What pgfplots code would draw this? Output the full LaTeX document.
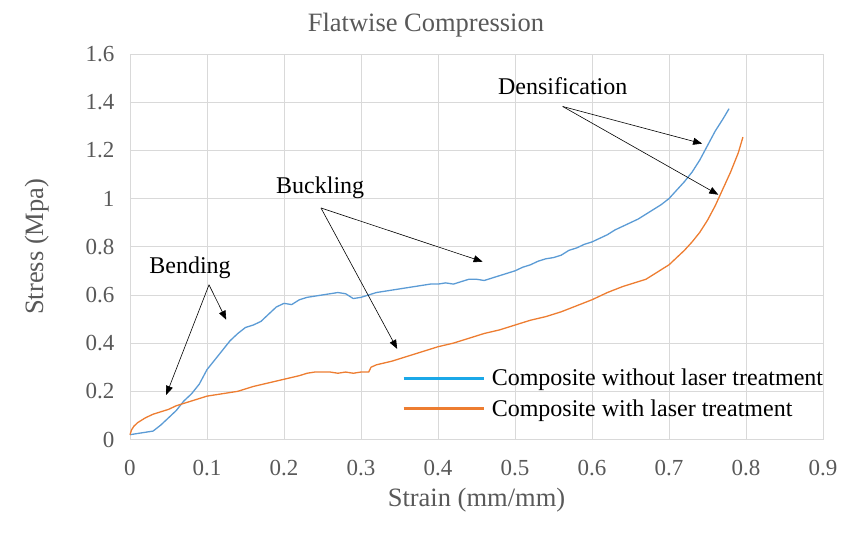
\documentclass[border=0pt]{standalone}
\usepackage{pgfplots}
\pgfplotsset{compat=1.18}
\usepackage{fontspec}
\setmainfont{Liberation Serif}
\usetikzlibrary{arrows.meta}
\definecolor{sblue}{HTML}{5B9BD5}
\definecolor{lblue}{HTML}{1BA8E8}
\definecolor{sorange}{HTML}{ED7D31}
\definecolor{txtgray}{HTML}{595959}
\definecolor{gridgray}{HTML}{D9D9D9}
\begin{document}
\begin{tikzpicture}
\begin{axis}[
  scale only axis,
  width=693pt, height=385.5pt,
  xmin=0, xmax=0.9, ymin=0, ymax=1.6,
  xtick={0,0.1,...,0.9}, ytick={0,0.2,...,1.6},
  xticklabels={0,0.1,0.2,0.3,0.4,0.5,0.6,0.7,0.8,0.9},
  yticklabels={0,0.2,0.4,0.6,0.8,1,1.2,1.4,1.6},
  grid=major,
  major grid style={gridgray, line width=0.8pt},
  axis line style={gridgray, line width=0.8pt},
  tick style={draw=none},
  ticklabel style={font=\fontsize{23}{26}\selectfont, text=txtgray},
  xticklabel style={yshift=-17pt},
  yticklabel style={xshift=-12pt},
  xlabel={Strain (mm/mm)},
  ylabel={Stress (Mpa)},
  label style={font=\fontsize{26.5}{30}\selectfont, text=txtgray},
  xlabel style={yshift=-6pt},
  ylabel style={yshift=30pt},
  title={Flatwise Compression},
  title style={font=\fontsize{26.5}{30}\selectfont, text=txtgray, at={(0.427,1)}, anchor=center, yshift=23pt},
  legend cell align=left,
  legend style={draw=none, fill=none, at={(0.3925,0.188)}, anchor=north west, inner sep=0pt,
    font=\fontsize{24}{28}\selectfont, row sep=8pt,
    nodes={inner xsep=7pt, inner ysep=2pt}},
  legend image code/.code={\draw[#1, line width=2.6pt] (0pt,0pt) -- (80pt,0pt);},
  clip=false,
]
\addplot[sblue, line width=1.3pt, forget plot] coordinates {
(0,0.02)(0.01,0.025)(0.02,0.03)(0.03,0.035)(0.04,0.06)(0.05,0.09)(0.06,0.12)(0.07,0.16)
(0.08,0.19)(0.09,0.23)(0.10,0.29)(0.11,0.33)(0.12,0.37)(0.13,0.41)(0.14,0.44)(0.15,0.465)
(0.16,0.475)(0.17,0.49)(0.18,0.52)(0.19,0.55)(0.20,0.565)(0.21,0.56)(0.22,0.58)(0.23,0.59)
(0.24,0.595)(0.25,0.60)(0.26,0.605)(0.27,0.61)(0.28,0.605)(0.29,0.585)(0.30,0.59)(0.31,0.60)
(0.32,0.61)(0.33,0.615)(0.34,0.62)(0.35,0.625)(0.36,0.63)(0.37,0.635)(0.38,0.64)(0.39,0.645)
(0.40,0.645)(0.41,0.65)(0.42,0.645)(0.43,0.655)(0.44,0.665)(0.45,0.665)(0.46,0.66)(0.47,0.67)
(0.48,0.68)(0.49,0.69)(0.50,0.70)(0.51,0.715)(0.52,0.725)(0.53,0.74)(0.54,0.75)(0.55,0.755)
(0.56,0.765)(0.57,0.785)(0.58,0.795)(0.59,0.81)(0.60,0.82)(0.61,0.835)(0.62,0.85)(0.63,0.87)
(0.64,0.885)(0.65,0.90)(0.66,0.915)(0.67,0.935)(0.68,0.955)(0.69,0.975)(0.70,1.00)(0.71,1.035)
(0.72,1.07)(0.73,1.11)(0.74,1.16)(0.75,1.22)(0.76,1.28)(0.77,1.33)(0.778,1.373)
};
\addplot[sorange, line width=1.3pt, forget plot] coordinates {
(0,0.02)(0.002,0.04)(0.005,0.055)(0.01,0.07)(0.02,0.09)(0.03,0.105)(0.04,0.115)(0.05,0.125)
(0.06,0.14)(0.07,0.15)(0.08,0.16)(0.09,0.17)(0.10,0.18)(0.12,0.19)(0.14,0.20)(0.16,0.22)
(0.18,0.235)(0.20,0.25)(0.22,0.265)(0.23,0.275)(0.24,0.28)(0.26,0.28)(0.27,0.275)(0.28,0.28)
(0.29,0.275)(0.30,0.28)(0.31,0.28)(0.313,0.30)(0.32,0.31)(0.34,0.325)(0.36,0.345)(0.38,0.365)
(0.40,0.385)(0.42,0.40)(0.44,0.42)(0.46,0.44)(0.48,0.455)(0.50,0.475)(0.52,0.495)(0.54,0.51)
(0.56,0.53)(0.58,0.555)(0.60,0.58)(0.62,0.61)(0.64,0.635)(0.66,0.655)(0.67,0.665)(0.68,0.685)
(0.69,0.705)(0.70,0.725)(0.71,0.755)(0.72,0.785)(0.73,0.82)(0.74,0.86)(0.75,0.91)(0.76,0.97)
(0.77,1.04)(0.78,1.11)(0.79,1.19)(0.796,1.255)
};
\addlegendimage{lblue}
\addlegendentry{Composite without laser treatment}
\addlegendimage{sorange}
\addlegendentry{Composite with laser treatment}
% annotations
\node[font=\fontsize{24}{28}\selectfont] at (axis cs:0.078,0.713) {Bending};
\draw[-{Triangle[length=9pt,width=7pt]}, line width=0.6pt] (axis cs:0.1026,0.642) -- (axis cs:0.047,0.185);
\draw[-{Triangle[length=9pt,width=7pt]}, line width=0.6pt] (axis cs:0.1026,0.642) -- (axis cs:0.125,0.497);
\node[font=\fontsize{24}{28}\selectfont] at (axis cs:0.247,1.045) {Buckling};
\draw[-{Triangle[length=9pt,width=7pt]}, line width=0.6pt] (axis cs:0.248,0.961) -- (axis cs:0.458,0.738);
\draw[-{Triangle[length=9pt,width=7pt]}, line width=0.6pt] (axis cs:0.248,0.961) -- (axis cs:0.347,0.376);
\node[font=\fontsize{24}{28}\selectfont] at (axis cs:0.562,1.465) {Densification};
\draw[-{Triangle[length=9pt,width=7pt]}, line width=0.6pt] (axis cs:0.562,1.382) -- (axis cs:0.743,1.228);
\draw[-{Triangle[length=9pt,width=7pt]}, line width=0.6pt] (axis cs:0.562,1.382) -- (axis cs:0.764,1.016);
\end{axis}
\path ([xshift=-130pt,yshift=-92.5pt]current axis.south west) rectangle ([xshift=29pt,yshift=54pt]current axis.north east);
\end{tikzpicture}
\end{document}
